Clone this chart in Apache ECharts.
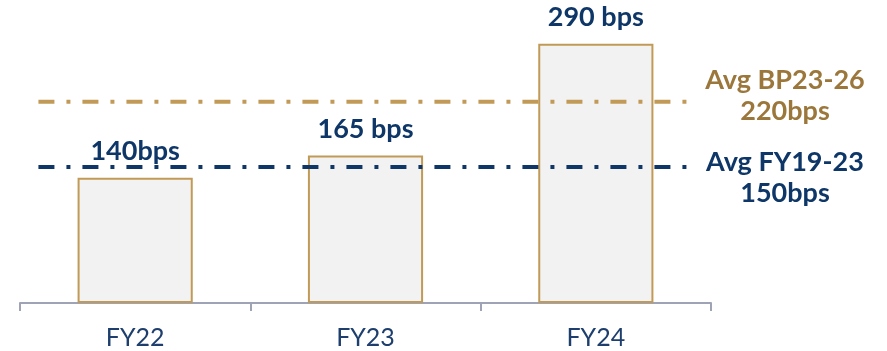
<!DOCTYPE html>
<html>
<head>
<meta charset="utf-8">
<script src="https://cdn.jsdelivr.net/npm/echarts@6/dist/echarts.min.js"></script>
<style>
  html, body { margin: 0; padding: 0; background: #fff; }
  #chart { width: 887px; height: 351px; }
</style>
</head>
<body>
<div id="chart"></div>
<script>
// Data
const categories = ["FY22", "FY23", "FY24"];
const marginBps = [140, 165, 290];
const barLabels = ["140bps", "165 bps", "290 bps"];

// reference lines (text from the labels)
const avgBpValue = 225;
const avgBpText = ["Avg BP23-26", "220bps"];
const avgFyValue = 152;
const avgFyText = ["Avg FY19-23", "150bps"];

const gold = "#C29A57";
const goldText = "#9B773B";
const navy = "#0E3768";

const chart = echarts.init(document.getElementById("chart"));

// dashed lines run from just inside the first bar slot to past the last one
const lineStart = -0.42;
const lineEnd = 2.4;

function refLine(value, color) {
  return {
    type: "line",
    xAxisIndex: 1,
    data: [
      [lineStart, value],
      [lineEnd, value],
    ],
    symbol: "none",
    silent: true,
    z: 5,
    lineStyle: {
      color: color,
      width: 4,
      type: [16, 12, 4, 12],
      cap: "butt",
    },
  };
}

const option = {
  animation: false,
  grid: { left: 20, right: 176, top: 8, bottom: 48 },
  xAxis: [
    {
      type: "category",
      data: categories,
      axisLine: { show: true, lineStyle: { color: "#9EA3B5", width: 2 } },
      axisTick: {
        show: true,
        alignWithLabel: false,
        length: 8,
        lineStyle: { color: "#9EA3B5", width: 2 },
      },
      axisLabel: {
        color: "#1E3F6E",
        fontFamily: "Lato",
        fontSize: 25,
        lineHeight: 25,
        margin: 22,
      },
    },
    { type: "value", min: -0.5, max: 2.5, show: false },
  ],
  yAxis: { type: "value", min: 0, max: 330, show: false },
  series: [
    {
      type: "bar",
      data: marginBps,
      barWidth: "50%",
      itemStyle: { color: "#F2F2F2", borderColor: gold, borderWidth: 2 },
      label: {
        show: true,
        position: "top",
        distance: 13,
        formatter: (p) => barLabels[p.dataIndex],
        color: navy,
        fontFamily: "Lato",
        fontWeight: "bold",
        fontSize: 27,
        lineHeight: 27,
      },
    },
    refLine(avgBpValue, gold),
    refLine(avgFyValue, navy),
  ],
};
chart.setOption(option);

// side labels next to the reference lines
function sideLabel(value, lines, color, dy) {
  const y = chart.convertToPixel({ yAxisIndex: 0 }, value);
  return {
    type: "text",
    x: 785,
    y: y + dy,
    style: {
      text: lines.join("\n"),
      fill: color,
      font: "bold 27px Lato",
      lineHeight: 31,
      align: "center",
      verticalAlign: "middle",
    },
  };
}

chart.setOption({
  graphic: [
    sideLabel(avgBpValue, avgBpText, goldText, -6),
    sideLabel(avgFyValue, avgFyText, navy, 11),
  ],
});

window.addEventListener("resize", function () {
  chart.resize();
});
</script>
</body>
</html>
